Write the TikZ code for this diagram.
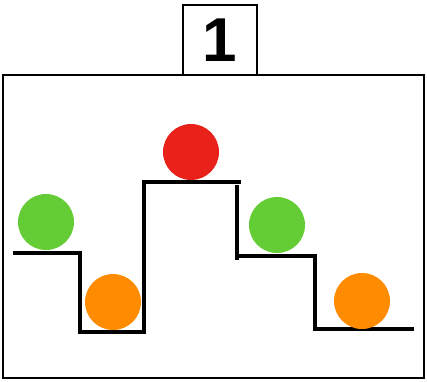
\documentclass[tikz,border=0pt]{standalone}
\usepackage{fontspec}
\setmainfont{Liberation Sans}
\usetikzlibrary{positioning}

\definecolor{ballgreen}{RGB}{100,204,52}
\definecolor{ballorange}{RGB}{255,140,0}
\definecolor{ballred}{RGB}{232,34,26}

\tikzset{
  ball/.style={circle, minimum size=56pt, inner sep=0pt},
  stairline/.style={line width=3.4pt, line cap=rect},
  frame/.style={draw, line width=2pt}
}

\begin{document}
\begin{tikzpicture}[x=1pt, y=-1pt]
\useasboundingbox (0,0) rectangle (427,381);

% Outer frame and number box
\draw[frame] (3,75) rectangle (424,378);
\node[frame, minimum width=74pt, minimum height=70pt, inner sep=0pt, fill=white,
      font=\bfseries\fontsize{62}{62}\selectfont] (num) at (220,40) {1};

% Stairs
\draw[stairline] (15,253) -- (80,253) -- (80,332) -- (144,332) -- (144,182) -- (239,182);
\draw[stairline] (237,187) -- (237,258);
\draw[stairline] (237,256) -- (315,256) -- (315,329) -- (412,329);

% Balls
\node[ball, fill=ballgreen] (g1) at (46,222) {};
\node[ball, fill=ballorange] (o1) at (113,302) {};
\node[ball, fill=ballred] (r1) at (191,152) {};
\node[ball, fill=ballgreen] (g2) at (277,225) {};
\node[ball, fill=ballorange] (o2) at (362,301) {};

\end{tikzpicture}
\end{document}
